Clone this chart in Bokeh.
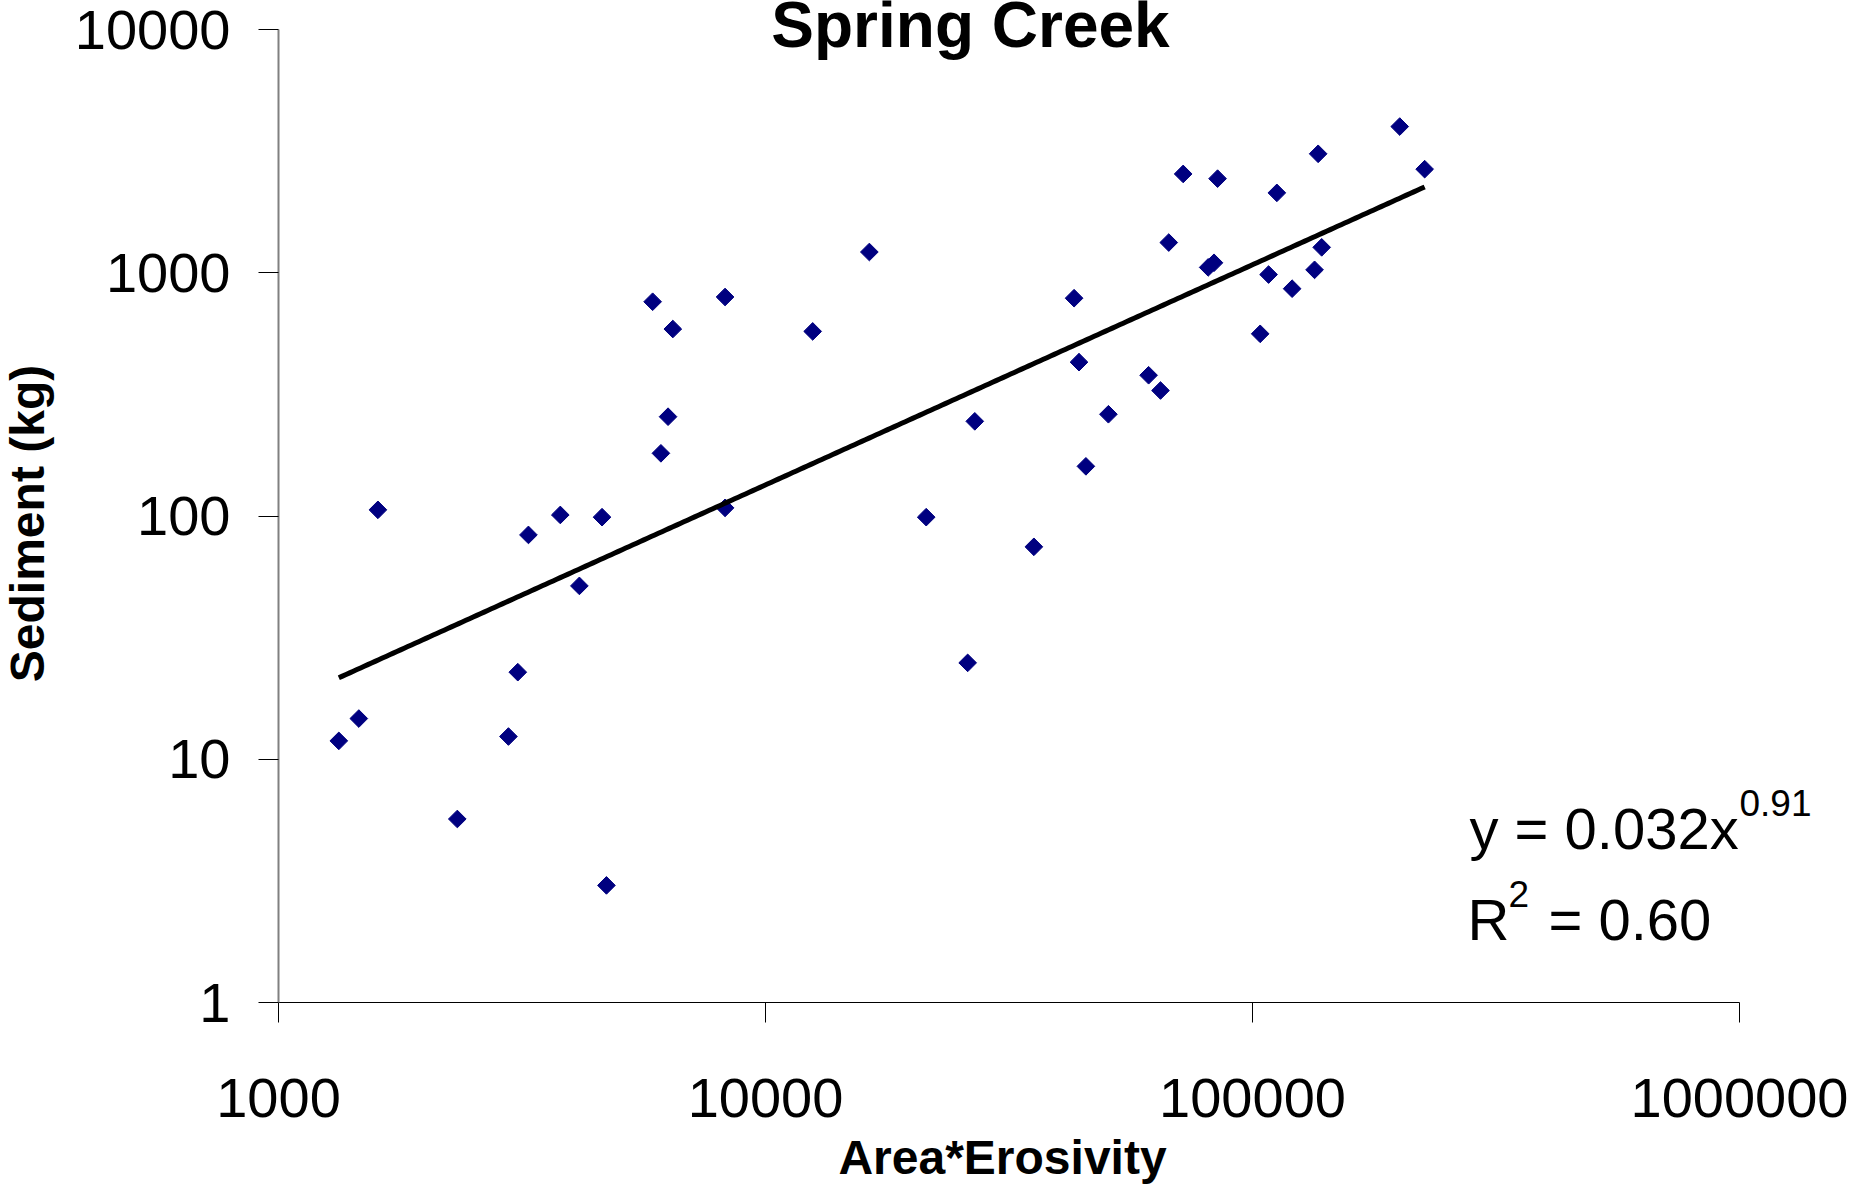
import numpy as np
from bokeh.plotting import figure
from bokeh.models import FixedTicker, PrintfTickFormatter, Label
from bokeh.embed import file_html
from bokeh.resources import INLINE

# ---- data ----
area_erosivity = [1330, 1462, 1600, 2329, 2966, 3100, 3260, 3790, 4148, 4617, 4714,
                  5865, 6099, 6308, 6452, 8260, 8260, 12500, 16340, 21380, 26010,
                  26900, 35570, 43020, 44030, 45490, 50600, 61190, 64730, 67310,
                  72050, 81090, 83360, 84780, 103700, 107900, 112200, 120600,
                  134100, 136400, 138700, 200600, 225700]
sediment_kg = [11.9, 14.7, 106, 5.68, 12.4, 22.8, 83.6, 101, 51.6, 98.9, 3.03,
               760, 181, 256, 587, 795, 108, 574, 1217, 98.9, 24.9,
               245, 74.7, 786, 429, 160, 262, 379, 328, 1331,
               2548, 1052, 1099, 2437, 561, 983, 2130, 860,
               1028, 3083, 1272, 3990, 2666]

# power-law trend line parameters (y = a * x^b)
fit_coef = 0.0322
fit_exp = 0.905

x_ticks = [1000, 10000, 100000, 1000000]
y_ticks = [1, 10, 100, 1000, 10000]

title_text = "Spring Creek"
x_title = "Area*Erosivity"
y_title = "Sediment (kg)"
eq_main = "y = 0.032x"
eq_sup = "0.91"
r2_main = "R"
r2_sup = "2"
r2_rest = "= 0.60"

FONT = "Liberation Sans"

# layout: the frame covers the whole canvas; both axes are drawn at fixed
# data locations (x = 1000, y = 1) and bounded to the tick ranges, so every
# text can be placed as an unclipped label.
X_DEC = 487.0      # px per decade on x
Y_DEC = 243.25     # px per decade on y
FRAME_W = 1857
FRAME_H = 1189
ORIGIN_X = 278     # px from left edge to the y axis
ORIGIN_Y = 187     # px from bottom edge to the x axis
x0 = np.log10(x_ticks[0])
y0 = np.log10(y_ticks[0])
x_range = (10 ** (x0 - ORIGIN_X / X_DEC), 10 ** (x0 + (FRAME_W - ORIGIN_X) / X_DEC))
y_range = (10 ** (y0 - ORIGIN_Y / Y_DEC), 10 ** (y0 + (FRAME_H - ORIGIN_Y) / Y_DEC))

p = figure(x_axis_type="log", y_axis_type="log",
           x_range=x_range, y_range=y_range,
           frame_width=FRAME_W, frame_height=FRAME_H,
           min_border=0, min_border_left=0, min_border_right=0,
           min_border_top=0, min_border_bottom=0,
           output_backend="svg", toolbar_location=None)
p.title = None
p.grid.visible = False
p.outline_line_color = None
p.background_fill_color = "white"
p.border_fill_color = "white"

for ax in (p.xaxis[0], p.yaxis[0]):
    ax.major_tick_out = 20
    ax.major_tick_in = 0
    ax.minor_tick_out = 0
    ax.minor_tick_in = 0
    ax.major_tick_line_color = "black"
    ax.major_tick_line_width = 1
    ax.major_label_text_font = FONT
    ax.major_label_text_font_size = "56px"
    ax.major_label_text_color = "black"
    ax.formatter = PrintfTickFormatter(format="%d")

p.xaxis.ticker = FixedTicker(ticks=x_ticks, minor_ticks=[])
p.yaxis.ticker = FixedTicker(ticks=y_ticks, minor_ticks=[])
p.xaxis.bounds = (x_ticks[0], x_ticks[-1])
p.yaxis.bounds = (y_ticks[0], y_ticks[-1])
p.xaxis.fixed_location = y_ticks[0]
p.yaxis.fixed_location = x_ticks[0]
p.xaxis.axis_line_color = "black"
p.xaxis.axis_line_width = 1
p.yaxis.axis_line_color = "#808080"
p.yaxis.axis_line_width = 2
p.xaxis.major_label_standoff = 56
p.yaxis.major_label_standoff = 28

# scatter points (diamonds)
p.scatter(area_erosivity, sediment_kg, marker="square", angle=np.pi / 4, size=12.5,
          fill_color="#000080", line_color="#000080", line_width=1)

# trend line
xs = np.geomspace(min(area_erosivity), max(area_erosivity), 300)
p.line(xs, fit_coef * xs ** fit_exp, line_color="black", line_width=5)

def lab(text, x, y, size, bold=False, align="left", baseline="alphabetic", angle=0.0):
    p.add_layout(Label(x=x, y=y, x_units="screen", y_units="screen", text=text,
                       text_font=FONT, text_font_size=size,
                       text_font_style="bold" if bold else "normal",
                       text_color="black", text_align=align,
                       text_baseline=baseline, angle=angle))

# chart title and axis titles
lab(title_text, 970, 1165, "64px", bold=True, align="center")
lab(x_title, 1002, 32, "48px", bold=True, align="center")
lab(y_title, 27, 666, "48px", bold=True, align="center", baseline="middle", angle=np.pi / 2)

# equation annotation
lab(eq_main, 1469, 361, "58px")
lab(eq_sup, 1739, 387, "37px")
lab(r2_main, 1467, 270, "58px")
lab(r2_sup, 1508, 296, "37px")
lab(r2_rest, 1548, 270, "58px")

open("out.html", "w").write(file_html(p, INLINE))
